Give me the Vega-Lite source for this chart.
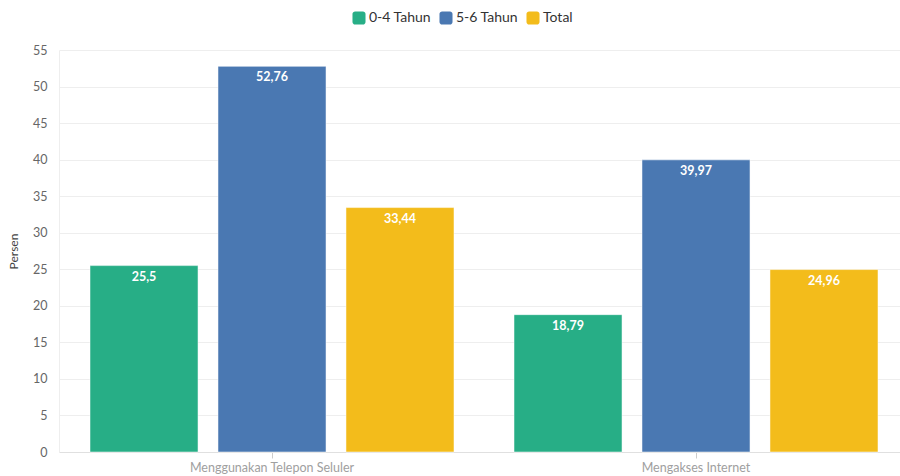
{
  "$schema": "https://vega.github.io/schema/vega-lite/v6.json",
  "width": 841,
  "height": 402,
  "autosize": {"type": "none"},
  "padding": {"left": 59, "top": 50, "right": 0, "bottom": 24},
  "background": "#ffffff",
  "config": {
    "font": "Lato",
    "view": {"stroke": null},
    "locale": {"number": {"decimal": ",", "thousands": ".", "grouping": [3], "currency": ["Rp", ""]}}
  },
  "data": {
    "values": [
      {"kategori": "Menggunakan Telepon Seluler", "kelompok": "0-4 Tahun", "nilai": 25.5},
      {"kategori": "Menggunakan Telepon Seluler", "kelompok": "5-6 Tahun", "nilai": 52.76},
      {"kategori": "Menggunakan Telepon Seluler", "kelompok": "Total", "nilai": 33.44},
      {"kategori": "Mengakses Internet", "kelompok": "0-4 Tahun", "nilai": 18.79},
      {"kategori": "Mengakses Internet", "kelompok": "5-6 Tahun", "nilai": 39.97},
      {"kategori": "Mengakses Internet", "kelompok": "Total", "nilai": 24.96}
    ]
  },
  "encoding": {
    "x": {
      "field": "kategori",
      "type": "nominal",
      "sort": ["Menggunakan Telepon Seluler", "Mengakses Internet"],
      "scale": {"paddingInner": 0.1415, "paddingOuter": 0.0625, "align": 0.585},
      "axis": {
        "title": null,
        "labelAngle": 0,
        "labelColor": "#a0a0a0",
        "labelFontSize": 12.5,
        "labelPadding": 3,
        "ticks": true,
        "tickColor": "#cccccc",
        "tickSize": 6,
        "domainColor": "#e0e0e0",
        "grid": false
      }
    },
    "xOffset": {
      "field": "kelompok",
      "type": "nominal",
      "sort": ["0-4 Tahun", "5-6 Tahun", "Total"],
      "scale": {"paddingInner": 0.156, "paddingOuter": 0}
    },
    "y": {
      "field": "nilai",
      "type": "quantitative",
      "scale": {"domain": [0, 55], "nice": false},
      "axis": {
        "title": "Persen",
        "titleFontWeight": "normal",
        "titleFontSize": 12,
        "titleColor": "#444444",
        "titlePadding": 12,
        "values": [0, 5, 10, 15, 20, 25, 30, 35, 40, 45, 50, 55],
        "labelColor": "#666666",
        "labelFontSize": 12.5,
        "labelPadding": 12,
        "ticks": false,
        "domain": true,
        "domainColor": "#eeeeee",
        "gridColor": "#eeeeee"
      }
    }
  },
  "layer": [
    {
      "mark": {"type": "bar", "stroke": "#ffffff", "strokeWidth": 1, "strokeOpacity": 0.5},
      "encoding": {
        "color": {
          "field": "kelompok",
          "type": "nominal",
          "scale": {"domain": ["0-4 Tahun", "5-6 Tahun", "Total"], "range": ["#27ae86", "#4a78b2", "#f3bc1b"]},
          "legend": {
            "title": null,
            "orient": "none",
            "legendX": 293,
            "legendY": -39,
            "direction": "horizontal",
            "symbolType": "M-0.6,-1H0.6A0.4,0.4 0 0 1 1,-0.6V0.6A0.4,0.4 0 0 1 0.6,1H-0.6A0.4,0.4 0 0 1 -1,0.6V-0.6A0.4,0.4 0 0 1 -0.6,-1Z",
            "symbolSize": 170,
            "symbolStrokeWidth": 0,
            "labelFontSize": 14,
            "labelColor": "#333333",
            "labelOffset": 3,
            "columnPadding": 7
          }
        }
      }
    },
    {
      "mark": {"type": "text", "dy": 11, "baseline": "middle", "align": "center", "color": "#ffffff", "fontWeight": "bold", "fontSize": 12.5},
      "encoding": {
        "text": {"field": "nilai", "type": "quantitative", "format": ".2~f"}
      }
    }
  ]
}
